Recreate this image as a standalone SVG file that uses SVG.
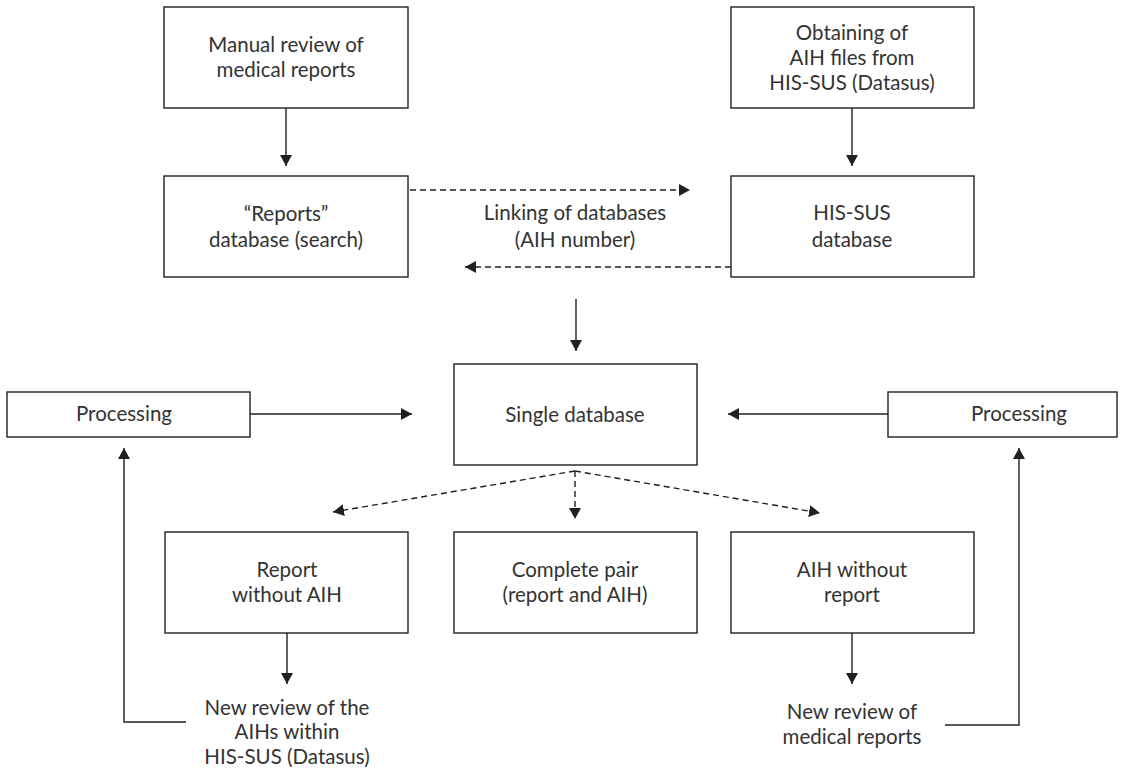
<svg xmlns="http://www.w3.org/2000/svg" width="1123" height="768" viewBox="0 0 1123 768">
<defs>
<style>
.box{fill:#fff;stroke:#231f20;stroke-width:1.4}
.t{font-family:Lato,"Open Sans","Liberation Sans",sans-serif;font-size:20.5px;fill:#333;text-anchor:middle}
.ln{fill:none;stroke:#231f20;stroke-width:1.4}
.arr{marker-end:url(#ah)}
.dash{stroke-dasharray:6 4}
</style>
<marker id="ah" markerUnits="userSpaceOnUse" markerWidth="12" markerHeight="12" refX="11" refY="6" orient="auto">
<path d="M0,0 L11,6 L0,12 z" fill="#231f20"/>
</marker>
</defs>
<rect width="1123" height="768" fill="#fff"/>
<g id="connectors">
<line class="ln arr" x1="286" y1="108" x2="286" y2="166"/>
<line class="ln arr" x1="852" y1="108" x2="852" y2="166"/>
<line class="ln arr dash" x1="410" y1="190" x2="690" y2="190"/>
<line class="ln arr dash" x1="731" y1="267" x2="465" y2="267"/>
<line class="ln arr" x1="576" y1="299" x2="576" y2="351"/>
<line class="ln arr" x1="250" y1="414" x2="412" y2="414"/>
<line class="ln arr" x1="888" y1="414" x2="728" y2="414"/>
<line class="ln arr dash" x1="575" y1="471" x2="333" y2="512"/>
<line class="ln arr dash" x1="575" y1="471" x2="575" y2="519"/>
<line class="ln arr dash" x1="575" y1="471" x2="820" y2="513"/>
<line class="ln arr" x1="287" y1="633" x2="287" y2="684"/>
<line class="ln arr" x1="852" y1="633" x2="852" y2="684"/>
<polyline class="ln arr" points="186,722 124,722 124,448"/>
<polyline class="ln arr" points="945,725 1019,725 1019,448"/>
<text class="t" x="575" y="220">Linking of databases</text>
<text class="t" x="575" y="247">(AIH number)</text>
</g>
<g id="manual">
<rect class="box" x="164" y="7" width="244" height="101"/>
<text class="t" x="286" y="52">Manual review of</text>
<text class="t" x="286" y="77">medical reports</text>
</g>
<g id="obtaining">
<rect class="box" x="731" y="7" width="243" height="101"/>
<text class="t" x="852" y="40">Obtaining of</text>
<text class="t" x="852" y="65">AIH files from</text>
<text class="t" x="852" y="90">HIS-SUS (Datasus)</text>
</g>
<g id="reports">
<rect class="box" x="164" y="176" width="244" height="101"/>
<text class="t" x="286" y="221">“Reports”</text>
<text class="t" x="286" y="247">database (search)</text>
</g>
<g id="hissus">
<rect class="box" x="731" y="176" width="243" height="101"/>
<text class="t" x="852" y="220">HIS-SUS</text>
<text class="t" x="852" y="247">database</text>
</g>
<g id="single">
<rect class="box" x="454" y="364" width="243" height="101"/>
<text class="t" x="575" y="422">Single database</text>
</g>
<g id="proc-left">
<rect class="box" x="7" y="392" width="243" height="45"/>
<text class="t" x="124" y="421">Processing</text>
</g>
<g id="proc-right">
<rect class="box" x="888" y="392" width="229" height="45"/>
<text class="t" x="1019" y="421">Processing</text>
</g>
<g id="report-no-aih">
<rect class="box" x="165" y="532" width="243" height="101"/>
<text class="t" x="287" y="577">Report</text>
<text class="t" x="287" y="602">without AIH</text>
</g>
<g id="complete">
<rect class="box" x="454" y="532" width="243" height="101"/>
<text class="t" x="575" y="577">Complete pair</text>
<text class="t" x="575" y="602">(report and AIH)</text>
</g>
<g id="aih-no-report">
<rect class="box" x="731" y="532" width="243" height="101"/>
<text class="t" x="852" y="577">AIH without</text>
<text class="t" x="852" y="602">report</text>
</g>
<g id="new-review-aih">
<text class="t" x="287" y="715">New review of the</text>
<text class="t" x="287" y="739">AIHs within</text>
<text class="t" x="287" y="764">HIS-SUS (Datasus)</text>
</g>
<g id="new-review-reports">
<text class="t" x="852" y="719">New review of</text>
<text class="t" x="852" y="744">medical reports</text>
</g>
</svg>
